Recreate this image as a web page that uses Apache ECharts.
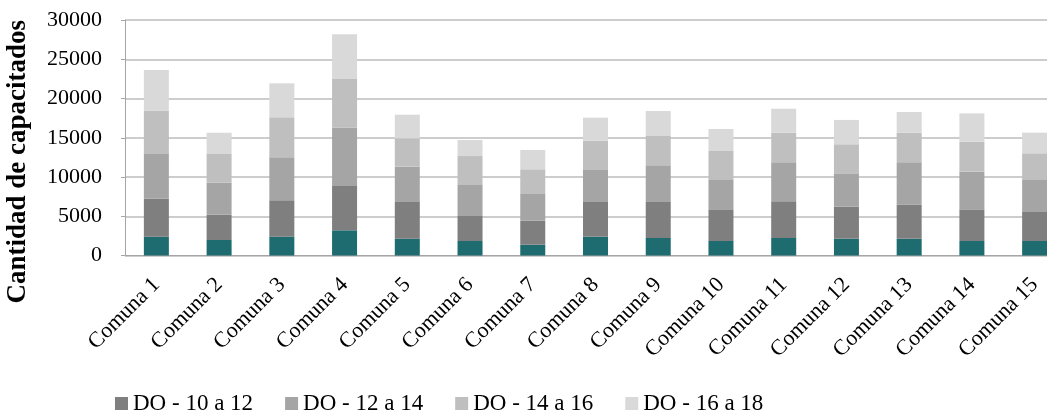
<!DOCTYPE html>
<html>
<head>
<meta charset="utf-8">
<script src="https://cdn.jsdelivr.net/npm/echarts@6/dist/echarts.min.js"></script>
<style>
html,body{margin:0;padding:0;background:#fff;}
#chart{width:1047px;height:412px;}
</style>
</head>
<body>
<div id="chart"></div>
<script>
var categories = ["Comuna 1","Comuna 2","Comuna 3","Comuna 4","Comuna 5","Comuna 6","Comuna 7","Comuna 8","Comuna 9","Comuna 10","Comuna 11","Comuna 12","Comuna 13","Comuna 14","Comuna 15"];
var do8a10  = [2400,1975,2400,3210,2140,1850,1380,2400,2230,1850,2230,2140,2140,1850,1850];
var do10a12 = [4840,3225,4630,5640,4675,3180,3055,4415,4585,3950,4670,4080,4335,4030,3780];
var do12a14 = [5690,4070,5480,7430,4500,3950,3490,4080,4675,3910,4970,4250,5400,4795,4080];
var do14a16 = [5520,3660,5095,6200,3620,3690,3060,3730,3735,3605,3770,3700,3770,3825,3310];
var do16a18 = [5180,2710,4330,5690,3000,2040,2460,2930,3185,2800,3060,3100,2640,3610,2630];
var seriesNames = ["DO - 8 a 10","DO - 10 a 12","DO - 12 a 14","DO - 14 a 16","DO - 16 a 18"];
var seriesColors = ["#1e6b70","#7f7f7f","#a5a5a5","#bfbfbf","#d9d9d9"];
var yTicks = {min:0, max:30000, interval:5000};

var font = "Liberation Serif";
var dataSets = [do8a10, do10a12, do12a14, do14a16, do16a18];
var series = dataSets.map(function(d,i){
  return {name:seriesNames[i], type:'bar', stack:'total', data:d, barWidth:25,
    itemStyle:{color:seriesColors[i]}};
});
var chart = echarts.init(document.getElementById('chart'));
chart.setOption({
  animation:false,
  grid:{left:125, top:20, right:-19, bottom:156.5, outerBoundsMode:'none', containLabel:false},
  legend:{data:seriesNames.slice(1), left:110, top:387, itemWidth:13, itemHeight:13, itemGap:32,
    icon:'rect', textStyle:{fontFamily:font, fontSize:23, color:'#000'}},
  xAxis:{type:'category', data:categories,
    axisLine:{lineStyle:{color:'#a6a6a6', width:1}},
    axisTick:{show:false},
    axisLabel:{rotate:45, interval:0, margin:26, fontFamily:font, fontSize:22, color:'#000'}},
  yAxis:{type:'value', min:yTicks.min, max:yTicks.max, interval:yTicks.interval,
    name:'Cantidad de capacitados', nameLocation:'middle', nameRotate:90, nameGap:93,
    nameTextStyle:{fontFamily:font, fontSize:27, fontWeight:'bold', color:'#000', padding:[0,48,0,0]},
    axisLine:{show:true, lineStyle:{color:'#a6a6a6'}},
    axisTick:{show:true, length:4, lineStyle:{color:'#a6a6a6'}},
    axisLabel:{margin:23, fontFamily:font, fontSize:22, color:'#000',
      formatter:function(v){return String(v);}},
    splitLine:{lineStyle:{color:'#bdbdbd', width:1.5}}},
  series:series
});
</script>
</body>
</html>
